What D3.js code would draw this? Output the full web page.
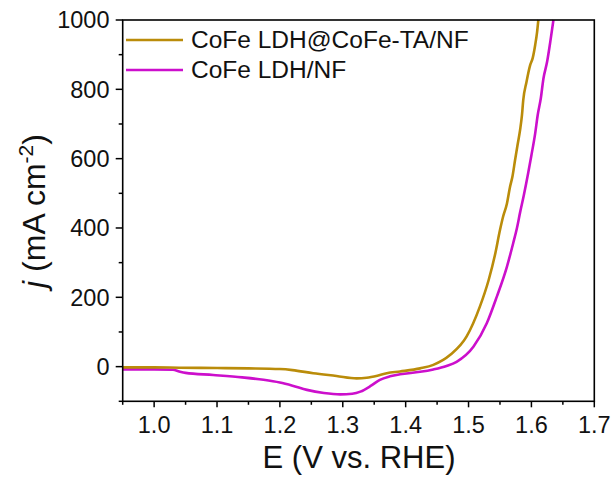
<!DOCTYPE html>
<html><head><meta charset="utf-8">
<script src="https://cdn.jsdelivr.net/npm/d3@7"></script>
<style>body{margin:0;background:#fff}svg{display:block;font-family:"Liberation Sans",Arial,sans-serif}</style>
</head><body>
<svg id="c" width="616" height="484"></svg>
<script>
const seriesNames = ["CoFe LDH@CoFe-TA/NF", "CoFe LDH/NF"];
const seriesColors = ["#BA8C0A", "#CC0FCC"];
const goldE = [0.95,1.0,1.04,1.1,1.15,1.2,1.22,1.253,1.29,1.322,1.338,1.355,1.37,1.391,1.423,1.444,1.471,1.497,1.518,1.532,1.542,1.550,1.555,1.561,1.566,1.570,1.574,1.578,1.582,1.585,1.587,1.592,1.598,1.602,1.606,1.609,1.611];
const goldJ = [-2,-2,-3,-4,-5,-7,-10,-19,-27,-34,-32,-26,-19,-14,-5,5,34,87,173,250,322,394,433,470,519,550,596,640,683,726,769,820,870,890,928,965,1000];
const magE = [0.95,1.0,1.03,1.04,1.05,1.094,1.14,1.174,1.2,1.22,1.243,1.27,1.296,1.315,1.328,1.345,1.359,1.375,1.391,1.423,1.444,1.465,1.481,1.508,1.529,1.545,1.561,1.571,1.577,1.582,1.588,1.595,1.600,1.606,1.610,1.615,1.619,1.625,1.630,1.635];
const magJ = [-8,-8,-9,-14,-18,-24,-31,-38,-46,-55,-67,-76,-80,-78,-72,-55,-38,-28,-22,-15,-8,2,14,58,125,202,288,356,400,445,495,560,610,673,726,775,830,880,937,1000];
const xTicks = [1.0,1.1,1.2,1.3,1.4,1.5,1.6,1.7];
const yTicks = [0,200,400,600,800,1000];
const xDomain = [0.95, 1.7];
const yDomain = [-100, 1000];

const svg = d3.select("#c");
const L = 122.7, R = 594.3, T = 20, B = 401.3;
const x = d3.scaleLinear().domain(xDomain).range([L, R]);
const y = d3.scaleLinear().domain(yDomain).range([B, T]);

svg.append("clipPath").attr("id","cp").append("rect")
  .attr("x",L).attr("y",T-1).attr("width",R-L).attr("height",B-T+1);

const line = d3.line().x(d=>x(d[0])).y(d=>y(d[1])).curve(d3.curveMonotoneX);
const data = [d3.zip(goldE, goldJ), d3.zip(magE, magJ)];
const g = svg.append("g").attr("clip-path","url(#cp)");
[1,0].forEach(i=>{
  g.append("path").datum(data[i]).attr("d", line).attr("fill","none")
    .attr("stroke", seriesColors[i]).attr("stroke-width",2.6).attr("stroke-linejoin","round");
});

// frame
svg.append("rect").attr("x",L).attr("y",T).attr("width",R-L).attr("height",B-T)
  .attr("fill","none").attr("stroke","#000").attr("stroke-width",1.6);

// x axis
const xMinor = d3.range(0.95, 1.7001, 0.05);
const xa = svg.append("g");
xMinor.forEach(v=>{
  const major = xTicks.some(t=>Math.abs(t-v)<1e-6);
  xa.append("line").attr("x1",x(v)).attr("x2",x(v)).attr("y1",B).attr("y2",B+(major?6:3.5))
    .attr("stroke","#000").attr("stroke-width",1.5);
});
xTicks.forEach(v=>{
  xa.append("text").attr("x",x(v)).attr("y",433).attr("text-anchor","middle")
    .attr("font-size",23.5).attr("fill","#111").text(d3.format(".1f")(v));
});
// y axis
const yMinor = d3.range(-100, 1001, 100);
yMinor.forEach(v=>{
  const major = yTicks.includes(v);
  svg.append("line").attr("x1",L).attr("x2",L-(major?7:4)).attr("y1",y(v)).attr("y2",y(v))
    .attr("stroke","#000").attr("stroke-width",1.5);
});
yTicks.forEach(v=>{
  svg.append("text").attr("x",109.5).attr("y",y(v)).attr("dy","0.36em").attr("text-anchor","end")
    .attr("font-size",23.5).attr("fill","#111").text(v);
});

// titles
svg.append("text").attr("x",359).attr("y",468).attr("text-anchor","middle")
  .attr("font-size",31).attr("fill","#111").text("E (V vs. RHE)");
const yt = svg.append("text").attr("transform","translate(45,211) rotate(-90)")
  .attr("text-anchor","middle").attr("font-size",32).attr("fill","#111");
yt.append("tspan").attr("font-style","italic").text("j");
yt.append("tspan").text(" (mA cm");
yt.append("tspan").attr("font-size",21).attr("dy","-12").text("-2");
yt.append("tspan").attr("dy","12").text(")");

// legend
seriesNames.forEach((n,i)=>{
  const yy = 40 + i*30;
  svg.append("line").attr("x1",126).attr("x2",183).attr("y1",yy).attr("y2",yy)
    .attr("stroke",seriesColors[i]).attr("stroke-width",2.6);
  svg.append("text").attr("x",191).attr("y",yy+7.5).attr("font-size",24.5).attr("fill","#111").text(n);
});
</script>
</body></html>
